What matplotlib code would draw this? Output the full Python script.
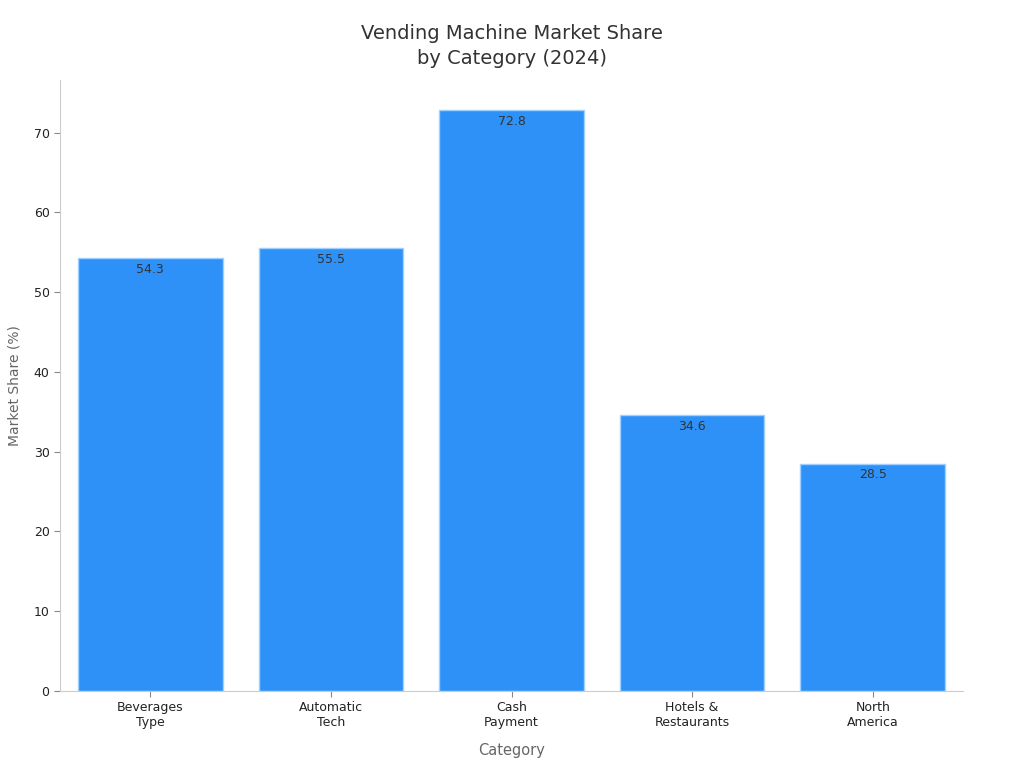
import matplotlib
matplotlib.use('Agg')
import matplotlib.pyplot as plt
import numpy as np

# data
categories = ['Beverages\nType', 'Automatic\nTech', 'Cash\nPayment', 'Hotels &\nRestaurants', 'North\nAmerica']
shares = [54.3, 55.5, 72.8, 34.6, 28.5]

plt.rcParams['font.family'] = ['DejaVu Sans']

fig = plt.figure(figsize=(10.24, 7.68), dpi=100)
ax = fig.add_axes([60/1024, 1 - 691/768, (963-60)/1024, (691-80)/768])

x = np.arange(len(categories))
bars = ax.bar(x, shares, width=0.8, color='#2E91F7', edgecolor='#9FD0FF', linewidth=1)

for b, v in zip(bars, shares):
    ax.text(b.get_x() + b.get_width()/2, v - 0.6, f'{v}', ha='center', va='top',
            fontsize=9, color='#333333')

ax.set_xlim(-0.5, 4.5)
ax.set_ylim(0, 76.6)
ax.set_xticks(x)
ax.set_xticklabels(categories, fontsize=9, color='#222222')
ax.set_yticks(np.arange(0, 80, 10))
ax.tick_params(axis='y', labelsize=9, labelcolor='#222222', color='#888888', length=4)
ax.tick_params(axis='x', color='#888888', length=4)

for s in ['top', 'right']:
    ax.spines[s].set_visible(False)
for s in ['left', 'bottom']:
    ax.spines[s].set_color('#CCCCCC')

ax.set_xlabel('Category', fontsize=10.5, color='#666666', labelpad=10)
ax.set_ylabel('Market Share (%)', fontsize=10, color='#666666', labelpad=9)
fig.text(0.5, 1 - 46/768, 'Vending Machine Market Share\nby Category (2024)', fontsize=14,
         color='#333333', ha='center', va='center', linespacing=1.4)

fig.savefig('out.png', dpi=100)
